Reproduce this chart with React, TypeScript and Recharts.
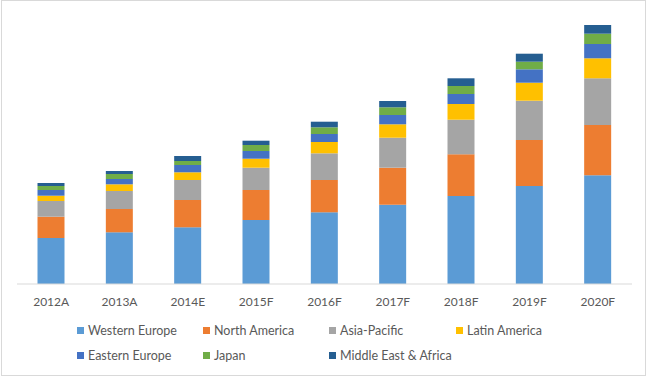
import React from "react";
import { BarChart, Bar, XAxis, YAxis, Legend } from "recharts";

const categories = ["2012A", "2013A", "2014E", "2015F", "2016F", "2017F", "2018F", "2019F", "2020F"];
const westernEurope = [46, 51.7, 56.7, 64, 71.7, 79.3, 88, 98, 108.7];
const northAmerica = [21.3, 23.3, 27.3, 30, 32.3, 37, 41.7, 46, 50.3];
const asiaPacific = [15.7, 18, 20, 22.3, 26.7, 30, 34.6, 39.3, 46.7];
const latinAmerica = [5.3, 6.7, 7.7, 9, 11.3, 13.4, 15.7, 18, 20];
const easternEurope = [5.7, 5.3, 7.3, 7.7, 8, 9.3, 10, 13.4, 14.3];
const japan = [4, 5, 4, 6, 6.7, 7.7, 8, 7.6, 10.3];
const middleEastAfrica = [3, 3, 5, 4.3, 5.6, 6.3, 7.7, 8, 8.7];

const seriesNames = ["Western Europe", "North America", "Asia-Pacific", "Latin America", "Eastern Europe", "Japan", "Middle East & Africa"];
const seriesKeys = ["we", "na", "ap", "la", "ee", "jp", "mea"];
const seriesValues = [westernEurope, northAmerica, asiaPacific, latinAmerica, easternEurope, japan, middleEastAfrica];
const colors = ["#5B9BD5", "#ED7D31", "#A5A5A5", "#FFC000", "#4472C4", "#70AD47", "#255E91"];

const data = categories.map((c, i) => {
  const row: Record<string, any> = { name: c };
  seriesKeys.forEach((k, j) => {
    row[k] = seriesValues[j][i];
  });
  return row;
});

const FONT = "Lato, 'Open Sans', sans-serif";

const legendCols = [77, 203, 329, 456];

const CustomLegend = () => (
  <div style={{ position: "relative", width: 650, height: 64, fontFamily: FONT, fontSize: 12.5, color: "#595959" }}>
    {seriesNames.map((n, i) => {
      const row = i < 4 ? 0 : 1;
      const col = i < 4 ? i : i - 4;
      const cy = row === 0 ? 16 : 41;
      return (
        <div
          key={n}
          style={{ position: "absolute", left: legendCols[col], top: cy - 8, height: 16, display: "flex", alignItems: "center", whiteSpace: "nowrap" }}
        >
          <span style={{ display: "inline-block", width: 7, height: 7, background: colors[i], marginRight: 4 }} />
          <span>{n}</span>
        </div>
      );
    })}
  </div>
);

export default function App() {
  return (
    <div style={{ position: "absolute", left: 0, top: 0, width: 650, height: 378, background: "#fff" }}>
      <div
        style={{
          position: "absolute",
          left: 1,
          top: 0,
          width: 645,
          height: 376,
          border: "1px solid #D9D9D9",
          boxSizing: "border-box",
          pointerEvents: "none",
        }}
      />
      <BarChart
        width={650}
        height={378}
        data={data}
        margin={{ top: 14, right: 18, bottom: 0, left: 17 }}
        barCategoryGap="30%"
      >
        <XAxis
          dataKey="name"
          tickLine={false}
          axisLine={{ stroke: "#D9D9D9" }}
          height={30}
          tick={{ fill: "#595959", fontSize: 12, fontFamily: FONT }}
          tickMargin={7}
          interval={0}
        />
        <YAxis hide domain={[0, 270]} />
        <Legend
          verticalAlign="bottom"
          content={() => <CustomLegend />}
          wrapperStyle={{ left: 0, width: 650, height: 64, bottom: 0 }}
        />
        {seriesKeys.map((k, i) => (
          <Bar key={k} dataKey={k} name={seriesNames[i]} stackId="a" fill={colors[i]} isAnimationActive={false} />
        ))}
      </BarChart>
    </div>
  );
}
